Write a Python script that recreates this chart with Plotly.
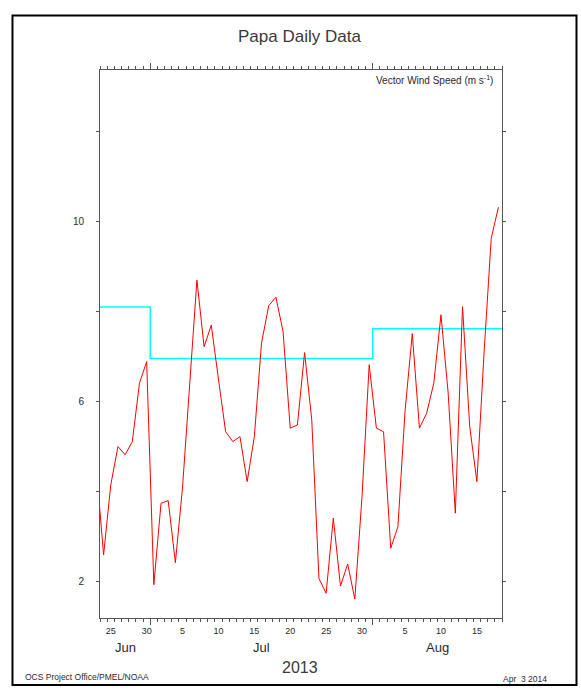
import pandas as pd
import plotly.graph_objects as go

# Daily vector wind speed at Ocean Station Papa (m/s), values at local noon
day_start = "2013-06-23 12:00"
daily_speed = [
    4.50,                                                   # Jun 23
    2.59, 4.15, 5.00, 4.82, 5.11, 6.41, 6.89,               # Jun 24-30
    1.93, 3.74, 3.80, 2.42, 4.10, 6.30, 8.70, 7.22, 7.70,   # Jul 1-9
    6.50, 5.33, 5.11, 5.22, 4.22, 5.22, 7.30, 8.13, 8.32,   # Jul 10-18
    7.56, 5.41, 5.48, 7.09, 5.59, 2.07, 1.74, 3.41, 1.90,   # Jul 19-27
    2.39, 1.61, 3.89, 6.82,                                 # Jul 28-31
    5.41, 5.33, 2.74, 3.22, 5.80, 7.51, 5.41, 5.74, 6.41,   # Aug 1-9
    7.93, 6.19, 3.52, 8.11, 5.45, 4.22, 7.08, 9.63, 10.32,  # Aug 10-18
]

# Monthly means (step line)
month_starts = ["2013-06-01", "2013-07-01", "2013-08-01", "2013-09-01"]
monthly_mean = [8.10, 6.96, 7.62]

# Axis extent and labelling
x_range = ["2013-06-24", "2013-08-19"]
y_range = [1.19, 13.37]
y_labels = [2, 6, 10]
y_minor_step = 2
day_label_dates = ["2013-06-25", "2013-06-30", "2013-07-05", "2013-07-10",
                   "2013-07-15", "2013-07-20", "2013-07-25", "2013-07-30",
                   "2013-08-05", "2013-08-10", "2013-08-15"]
month_names = ["Jun", "Jul", "Aug"]

FONT = "Liberation Sans"
TXT = "#2a2a2a"
AX = "#555555"

dates = pd.date_range(day_start, periods=len(daily_speed), freq="D")
step_x = pd.to_datetime(month_starts)
step_y = monthly_mean + [monthly_mean[-1]]

fig = go.Figure()
fig.add_trace(go.Scatter(x=step_x, y=step_y, mode="lines", line_shape="hv",
                         line=dict(color="#00ffff", width=1.5),
                         hoverinfo="skip", showlegend=False))
fig.add_trace(go.Scatter(x=dates, y=daily_speed, mode="lines",
                         line=dict(color="#ff0000", width=1),
                         showlegend=False))
# invisible trace carrying the day-number label axis
fig.add_trace(go.Scatter(x=[x_range[0]], y=[y_range[0]], xaxis="x2",
                         mode="markers", marker=dict(opacity=0),
                         hoverinfo="skip", showlegend=False))

label_vals = [pd.Timestamp(d) + pd.Timedelta(hours=12) for d in day_label_dates]
label_text = [str(pd.Timestamp(d).day) for d in day_label_dates]

fig.update_layout(
    width=581, height=698,
    margin=dict(l=100, r=79, t=70, b=80),
    paper_bgcolor="white", plot_bgcolor="white",
    font=dict(family=FONT, color=TXT, size=9),
    xaxis=dict(
        type="date", range=x_range, fixedrange=True,
        tickmode="array", tickvals=month_starts[1:3], showticklabels=False,
        ticks="outside", ticklen=6, tickwidth=1, tickcolor=AX,
        minor=dict(ticks="outside", ticklen=3, tickwidth=1, tickcolor=AX,
                   dtick=86400000, tick0="2013-06-24", showgrid=False),
        showline=True, linecolor=AX, linewidth=1, mirror="allticks",
        showgrid=False, zeroline=False,
    ),
    xaxis2=dict(
        type="date", range=x_range, overlaying="x", anchor="y", side="bottom",
        fixedrange=True, tickmode="array", tickvals=label_vals, ticktext=label_text,
        ticks="", showline=False, showgrid=False, zeroline=False,
        tickfont=dict(size=9, color=TXT), ticklabelstandoff=6,
    ),
    yaxis=dict(
        range=y_range, fixedrange=True,
        tickmode="array", tickvals=y_labels,
        ticks="outside", ticklen=3, tickwidth=1, tickcolor=AX,
        minor=dict(ticks="outside", ticklen=3, tickwidth=1, tickcolor=AX,
                   dtick=y_minor_step, tick0=0, showgrid=False),
        showline=True, linecolor=AX, linewidth=1, mirror="allticks",
        showgrid=False, zeroline=False,
        tickfont=dict(size=10, color=TXT), ticklabelstandoff=10,
    ),
)

# month names centred on the visible part of each month
lo, hi = pd.Timestamp(x_range[0]), pd.Timestamp(x_range[1])
for i, name in enumerate(month_names):
    a = max(pd.Timestamp(month_starts[i]), lo)
    b = min(pd.Timestamp(month_starts[i + 1]), hi)
    fig.add_annotation(x=a + (b - a) / 2, y=-0.0547, xref="x", yref="paper",
                       text=name, showarrow=False, yanchor="middle",
                       font=dict(size=13, color=TXT))

fig.add_annotation(x=0.4975, y=1.062, xref="paper", yref="paper",
                   text="Papa Daily Data", showarrow=False, yanchor="middle",
                   font=dict(size=17, color="#3a3a3a"))
fig.add_annotation(x=0.983, y=0.982, xref="paper", yref="paper",
                   text="Vector Wind Speed (m s<sup>-1</sup>)", showarrow=False,
                   xanchor="right", yanchor="middle", font=dict(size=10, color=TXT))
fig.add_annotation(x=0.498, y=-0.0912, xref="paper", yref="paper",
                   text="2013", showarrow=False, yanchor="middle",
                   font=dict(size=16, color="#3a3a3a"))
fig.add_annotation(x=-0.1915, y=-0.1077, xref="paper", yref="paper",
                   text="OCS Project Office/PMEL/NOAA", showarrow=False,
                   xanchor="left", yanchor="middle", font=dict(size=8.5, color=TXT))
fig.add_annotation(x=1.1169, y=-0.1113, xref="paper", yref="paper",
                   text="Apr  3 2014", showarrow=False,
                   xanchor="right", yanchor="middle", font=dict(size=8.5, color=TXT))

# outer page frame
fig.add_shape(type="rect", xref="paper", yref="paper",
              x0=-0.2177, x1=1.1853, y0=-0.1223, y1=1.0995,
              line=dict(color="black", width=2), layer="above")

fig.write_html("out.html")
